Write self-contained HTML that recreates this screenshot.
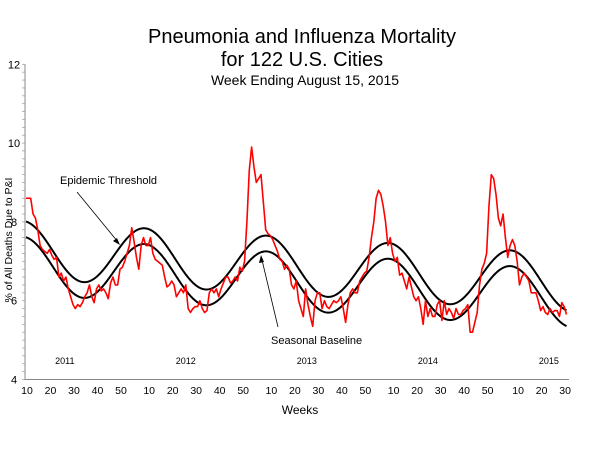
<!DOCTYPE html>
<html><head><meta charset="utf-8"><style>
html,body{margin:0;padding:0;background:#fff;}
svg{display:block;font-family:"Liberation Sans",Arial,sans-serif;}
</style></head><body>
<svg id="chart" width="600" height="450" viewBox="0 0 600 450">
<text x="302" y="43" font-size="20" text-anchor="middle">Pneumonia and Influenza Mortality</text>
<text x="302" y="66" font-size="20" text-anchor="middle">for 122 U.S. Cities</text>
<text x="305" y="85" font-size="14" text-anchor="middle">Week Ending  August 15, 2015</text>
<text transform="translate(12,240) rotate(-90)" font-size="10.5" text-anchor="middle">% of All Deaths Due to P&amp;I</text>
<text x="300" y="414" font-size="12" text-anchor="middle">Weeks</text>
<g id="axes"></g>
<g id="series"></g>
<g>
<text x="60" y="184" font-size="11">Epidemic Threshold</text>
<line x1="77" y1="192" x2="118" y2="242" stroke="#000" stroke-width="0.8"/>
<path d="M120,245 L113,241 L117,238 Z" fill="#000"/>
<text x="271" y="344" font-size="11">Seasonal Baseline</text>
<line x1="278" y1="327" x2="262" y2="260" stroke="#000" stroke-width="0.8"/>
<path d="M261,255 L259,263 L264,262 Z" fill="#000"/>
</g>
</svg>
<script>
const yTicks = [4, 6, 8, 10, 12];
const weekTickLabels = [10,20,30,40,50,10,20,30,40,50,10,20,30,40,50,10,20,30,40,50,10,20,30];
const weekTickIndex = [0,10,20,30,40,52,62,72,82,92,104,114,124,134,144,156,166,176,186,196,209,219,229];
const yearLabels = ["2011","2012","2013","2014","2015"];
const yearLabelIndex = [16.5, 68, 119.5, 171, 222.5];
const piValues = [8.6,8.6,8.6,8.2,8.1,7.8,7.4,7.3,7.25,7.2,
7.3,7.15,7.05,7.1,6.6,6.7,6.5,6.6,6.3,6.1,
5.9,5.8,5.9,5.85,5.95,6.1,6.2,6.4,6.1,5.95,
6.3,6.4,6.25,6.3,6.2,6.05,6.45,6.6,6.4,6.4,
6.8,6.85,7.0,7.2,7.4,7.85,7.5,7.1,6.8,7.4,
7.6,7.4,7.4,7.6,7.2,7.05,7.0,6.95,6.9,6.6,
6.35,6.4,6.5,6.4,6.1,6.2,6.3,6.2,6.4,5.8,
5.7,5.8,5.85,5.85,6.0,5.8,5.7,5.75,6.2,6.3,
6.2,6.3,6.1,6.3,6.45,6.6,6.6,6.45,6.5,6.6,
6.5,6.85,6.75,7.0,8.0,9.3,9.9,9.4,9.0,9.1,
9.2,8.5,7.8,7.7,7.65,7.55,7.4,7.25,7.05,7.0,
6.8,6.9,6.8,6.4,6.3,6.5,6.0,5.8,5.6,6.3,
5.9,5.6,5.35,6.0,6.2,6.2,5.8,6.0,5.85,5.8,
5.9,6.0,5.95,6.0,6.1,5.8,5.45,5.9,6.2,6.3,
6.2,6.2,6.5,6.6,6.7,6.75,7.1,7.6,8.0,8.6,
8.8,8.7,8.4,8.0,7.4,7.6,7.2,7.0,7.1,6.65,
6.7,6.5,6.3,6.6,6.35,6.1,6.0,6.1,5.8,5.4,
6.0,5.6,5.8,5.6,5.6,5.9,6.0,5.5,6.0,5.65,
5.8,5.7,5.55,5.8,5.65,5.65,5.75,5.8,5.9,5.2,
5.2,5.45,5.7,6.4,6.8,6.95,7.2,8.4,9.2,9.1,
8.7,8.1,7.9,8.2,7.6,7.1,7.4,7.55,7.4,7.0,
6.4,6.6,6.7,6.6,6.5,6.2,6.2,6.2,6.0,5.75,
5.85,5.7,5.65,5.8,5.7,5.75,5.75,5.6,5.95,5.85,5.65];
// seasonal baseline model coefficients: intercept, weekly trend, amplitude, peak week, period
const baselineIntercept = [6.89];
const baselineTrend = [-0.0036];
const baselineAmplitude = [0.73];
const baselinePeakWeek = [50.5];
const baselinePeriod = [51.9];
const thresholdOffset = [0.4];

const NS = "http://www.w3.org/2000/svg";
const X0 = 26, XPW = 2.35, Y4 = 379.5, YPU = 39.4;
function xScale(i){ return X0 + i * XPW; }
function yScale(v){ return Y4 - (v - 4) * YPU; }
function mk(tag, attrs, parent){ const e = document.createElementNS(NS, tag); for (const k in attrs) e.setAttribute(k, attrs[k]); parent.appendChild(e); return e; }

const axes = document.getElementById('axes');
const series = document.getElementById('series');

const yAxis = mk('line', {x1:25, y1:yScale(12), x2:25, y2:Y4, stroke:'#888', 'stroke-width':1}, axes);


const xAxis = mk('line', {x1:25, y1:Y4, x2:569, y2:Y4, stroke:'#888', 'stroke-width':1}, axes);



for (let v = 4; v <= 12.001; v += 0.2) {
  const mt = mk('line', {x1:22, y1:yScale(v), x2:25, y2:yScale(v), stroke:'#999', 'stroke-width':0.7}, axes);
  
  
}
yTicks.forEach(t => {
  const lb = mk('text', {x:14, y:yScale(t) + 4, 'font-size':11, 'text-anchor':'middle'}, axes);
  lb.textContent = t;
  
  
});
weekTickLabels.forEach((w, k) => {
  const lb = mk('text', {x:xScale(weekTickIndex[k]) + 1, y:394, 'font-size':10.5, 'text-anchor':'middle'}, axes);
  lb.textContent = w;
  
  
});
yearLabels.forEach((yr, k) => {
  const lb = mk('text', {x:xScale(yearLabelIndex[k]), y:364, 'font-size':9, 'text-anchor':'middle'}, axes);
  lb.textContent = yr;
  
  
});

function baseline(i){
  return baselineIntercept[0] + baselineTrend[0] * i + baselineAmplitude[0] * Math.cos(2 * Math.PI * (i - baselinePeakWeek[0]) / baselinePeriod[0]);
}
const n = piValues.length;
let bD = '', tD = '';
for (let s = 0; s <= (n - 1) * 4; s++) {
  const i = s / 4;
  bD += (s ? 'L' : 'M') + xScale(i).toFixed(2) + ',' + yScale(baseline(i)).toFixed(2);
  tD += (s ? 'L' : 'M') + xScale(i).toFixed(2) + ',' + yScale(baseline(i) + thresholdOffset[0]).toFixed(2);
}
const bl = mk('path', {d:bD, fill:'none', stroke:'#000', 'stroke-width':2}, series);


const th = mk('path', {d:tD, fill:'none', stroke:'#000', 'stroke-width':2}, series);



let pD = '';
piValues.forEach((v, i) => { pD += (i ? 'L' : 'M') + xScale(i).toFixed(2) + ',' + yScale(v).toFixed(2); });
const pl = mk('path', {d:pD, fill:'none', stroke:'#ff0000', 'stroke-width':1.6, 'stroke-linejoin':'round'}, series);


</script>
</body></html>
